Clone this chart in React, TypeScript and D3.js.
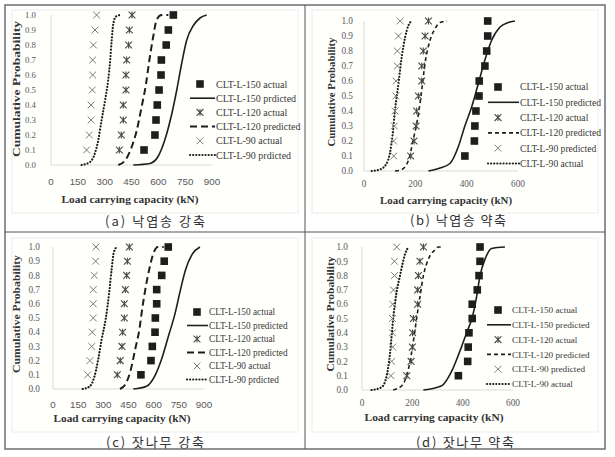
import React from 'react';
import * as d3 from 'd3';

// ---------- data ----------
const P_LEVELS = [0.1, 0.2, 0.3, 0.4, 0.5, 0.6, 0.7, 0.8, 0.9, 1.0];
const Y_TICKS = [0, 0.1, 0.2, 0.3, 0.4, 0.5, 0.6, 0.7, 0.8, 0.9, 1.0];
const X_TICKS_STRONG = [0, 150, 300, 450, 600, 750, 900];
const X_TICKS_WEAK = [0, 200, 400, 600];

// (a) 낙엽송 강축
const A150_A = [520, 581, 587, 594, 604, 615, 617, 644, 656, 684];
const A120_A = [382, 393, 404, 404, 419, 419, 423, 434, 438, 453];
const A90_A = [199, 214, 224, 224, 231, 233, 233, 237, 246, 255];
const P150_A: [number, number][] = [[460, 0], [553, 0.01], [600, 0.06], [637, 0.17], [675, 0.34], [703, 0.5], [731, 0.68], [758, 0.83], [796, 0.93], [833, 0.98], [870, 1.0]];
const P120_A: [number, number][] = [[376, 0], [414, 0.03], [451, 0.12], [479, 0.23], [507, 0.39], [531, 0.54], [550, 0.7], [572, 0.86], [591, 0.97], [619, 1.0], [656, 1.0]];
const P90_A: [number, number][] = [[171, 0], [218, 0.02], [246, 0.08], [265, 0.17], [283, 0.3], [302, 0.43], [320, 0.57], [331, 0.7], [339, 0.83], [348, 0.94], [363, 0.99], [386, 1.0]];

// (b) 낙엽송 약축
const A150_B = [393, 430, 432, 436, 448, 449, 471, 478, 482, 482];
const A120_B = [182, 195, 203, 205, 212, 225, 225, 231, 238, 251];
const A90_B = [116, 115, 118, 121, 124, 125, 130, 130, 134, 141];
const P150_B: [number, number][] = [[251, 0], [296, 0.02], [335, 0.05], [367, 0.16], [393, 0.3], [420, 0.43], [445, 0.58], [471, 0.74], [497, 0.87], [530, 0.96], [562, 0.99], [588, 1.0]];
const P120_B: [number, number][] = [[121, 0], [147, 0.01], [173, 0.07], [192, 0.21], [212, 0.38], [225, 0.54], [238, 0.72], [257, 0.87], [277, 0.95], [296, 0.99], [323, 1.0]];
const P90_B: [number, number][] = [[30, 0], [62, 0.01], [88, 0.05], [101, 0.12], [112, 0.25], [121, 0.41], [134, 0.58], [147, 0.76], [160, 0.89], [173, 0.97], [186, 1.0]];

// (c) 잣나무 강축
const A150_C = [524, 584, 592, 608, 610, 618, 618, 648, 663, 687];
const A120_C = [383, 401, 411, 415, 425, 425, 431, 439, 443, 455];
const A90_C = [207, 220, 231, 234, 240, 240, 240, 246, 254, 256];
const P150_C: [number, number][] = [[479, 0], [558, 0.02], [610, 0.1], [650, 0.22], [690, 0.38], [725, 0.52], [760, 0.7], [790, 0.84], [830, 0.95], [876, 1.0]];
const P120_C: [number, number][] = [[399, 0], [430, 0.03], [460, 0.12], [490, 0.28], [515, 0.42], [530, 0.55], [550, 0.7], [575, 0.85], [600, 0.96], [625, 1.0], [660, 1.0]];
const P90_C: [number, number][] = [[177, 0], [220, 0.02], [245, 0.08], [268, 0.2], [290, 0.35], [315, 0.5], [335, 0.68], [350, 0.85], [362, 0.96], [380, 1.0]];

// (d) 잣나무 약축
const A150_D = [383, 420, 422, 425, 438, 438, 458, 465, 469, 469];
const A120_D = [178, 195, 200, 201, 204, 221, 221, 224, 230, 244];
const A90_D = [115, 118, 122, 121, 121, 122, 125, 129, 129, 138];
const P150_D: [number, number][] = [[244, 0], [317, 0.03], [356, 0.13], [395, 0.3], [420, 0.42], [437, 0.5], [455, 0.65], [469, 0.8], [490, 0.92], [515, 0.99], [568, 1.0]];
const P120_D: [number, number][] = [[124, 0], [158, 0.03], [185, 0.15], [205, 0.35], [217, 0.5], [230, 0.65], [244, 0.8], [265, 0.92], [290, 0.98], [303, 1.0], [317, 1.0]];
const P90_D: [number, number][] = [[38, 0], [78, 0.02], [98, 0.1], [111, 0.25], [124, 0.5], [137, 0.68], [151, 0.8], [171, 0.95], [184, 1.0]];

const LEGEND_A = ['CLT-L-150 actual', 'CLT-L-150 prdicted', 'CLT-L-120 actual', 'CLT-L-120 predicted', 'CLT-L-90 actual', 'CLT-L-90 prdicted'];
const LEGEND_B = ['CLT-L-150 actual', 'CLT-L-150 predicted', 'CLT-L-120 actual', 'CLT-L-120 predicted', 'CLT-L-90 predicted', 'CLT-L-90 actual'];
const LEGEND_C = ['CLT-L-150 actual', 'CLT-L-150 predicted', 'CLT-L-120 actual', 'CLT-L-120 predicted', 'CLT-L-90 actual', 'CLT-L-90 prdicted'];
const LEGEND_D = ['CLT-L-150 actual', 'CLT-L-150 predicted', 'CLT-L-120 actual', 'CLT-L-120 predicted', 'CLT-L-90 predicted', 'CLT-L-90 actual'];

const CAPTIONS = ['(a) 낙엽송 강축', '(b) 낙엽송 약축', '(c) 잣나무 강축', '(d) 잣나무 약축'];
const Y_TITLE = 'Cumulative Probability';
const X_TITLE = 'Load carrying capacity (kN)';

// ---------- layout ----------
type Cfg = {
  xMax: number; xTicks: number[];
  xr: [number, number]; yr: [number, number];
  frame: [number, number, number, number];
  xTickY: number; xTickFont: string; xTickSize: number;
  yTickRight: number; yTickSize: number;
  xTitle: [number, number, number]; yTitle: [number, number, number];
  leg: { mx: number; lx0: number; lx1: number; tx: number; y0: number; dy: number; fs: number };
  caption: [number, number, number];
  dash: string; dashW: number;
  a150: number[]; a120: number[]; a90: number[];
  p150: [number, number][]; p120: [number, number][]; p90: [number, number][];
  legend: string[]; capIdx: number;
};

const SERIF = '"Liberation Serif", "Times New Roman", serif';
const SANS = '"Liberation Sans", Arial, sans-serif';

const PANELS: Cfg[] = [
  {
    xMax: 900, xTicks: X_TICKS_STRONG, xr: [51, 212], yr: [165, 15], frame: [12, 10, 286, 203],
    xTickY: 185, xTickFont: SANS, xTickSize: 9.8, yTickRight: 36, yTickSize: 8.8,
    xTitle: [130, 203, 137], yTitle: [16, 89, 136],
    leg: { mx: 200, lx0: 190, lx1: 215, tx: 216, y0: 84, dy: 14.2, fs: 10 },
    caption: [155, 226, 100], dash: '7 4', dashW: 2,
    a150: A150_A, a120: A120_A, a90: A90_A, p150: P150_A, p120: P120_A, p90: P90_A, legend: LEGEND_A, capIdx: 0,
  },
  {
    xMax: 600, xTicks: X_TICKS_WEAK, xr: [364, 518], yr: [171, 21], frame: [312, 10, 286, 203],
    xTickY: 187, xTickFont: SERIF, xTickSize: 9.3, yTickRight: 353, yTickSize: 9.3,
    xTitle: [446, 204, 132], yTitle: [331, 92, 109],
    leg: { mx: 498, lx0: 488, lx1: 519, tx: 520, y0: 87, dy: 15.3, fs: 9.6 },
    caption: [458, 225, 96], dash: '4 3', dashW: 1.6,
    a150: A150_B, a120: A120_B, a90: A90_B, p150: P150_B, p120: P120_B, p90: P90_B, legend: LEGEND_B, capIdx: 1,
  },
  {
    xMax: 900, xTicks: X_TICKS_STRONG, xr: [53, 204], yr: [389, 247], frame: [12, 238, 286, 194],
    xTickY: 408, xTickFont: SANS, xTickSize: 9.8, yTickRight: 40, yTickSize: 9.3,
    xTitle: [122, 422, 137], yTitle: [16, 314, 118],
    leg: { mx: 197, lx0: 187, lx1: 208, tx: 209, y0: 312, dy: 13.5, fs: 9.3 },
    caption: [155, 447, 98], dash: '7 4', dashW: 2,
    a150: A150_C, a120: A120_C, a90: A90_C, p150: P150_C, p120: P120_C, p90: P90_C, legend: LEGEND_C, capIdx: 2,
  },
  {
    xMax: 600, xTicks: X_TICKS_WEAK, xr: [362, 513], yr: [390, 247], frame: [312, 238, 286, 194],
    xTickY: 406, xTickFont: SERIF, xTickSize: 9.3, yTickRight: 348, yTickSize: 9.3,
    xTitle: [434, 421, 139], yTitle: [330, 314, 115],
    leg: { mx: 498, lx0: 487, lx1: 511, tx: 512, y0: 310, dy: 14.8, fs: 9.2 },
    caption: [465, 447, 98], dash: '4 3', dashW: 1.6,
    a150: A150_D, a120: A120_D, a90: A90_D, p150: P150_D, p120: P120_D, p90: P90_D, legend: LEGEND_D, capIdx: 3,
  },
];

const INK = '#1e1e1e';
const STAR_C = '#4a4a4a';
const CROSS_C = '#7a7a7a';
const TICK_C = '#595959';

function Square({ x, y }: { x: number; y: number }) {
  return <rect x={x - 3.8} y={y - 3.8} width={7.6} height={7.6} fill={INK} />;
}
function Star({ x, y }: { x: number; y: number }) {
  const h = 3.4;
  return (
    <path d={`M${x - h},${y - h}L${x + h},${y + h}M${x - h},${y + h}L${x + h},${y - h}M${x},${y - h}L${x},${y + h}`}
      stroke={STAR_C} strokeWidth={1.1} fill="none" />
  );
}
function Cross({ x, y }: { x: number; y: number }) {
  const h = 3.4;
  return (
    <path d={`M${x - h},${y - h}L${x + h},${y + h}M${x - h},${y + h}L${x + h},${y - h}`}
      stroke={CROSS_C} strokeWidth={1} fill="none" />
  );
}

function Panel({ c }: { c: Cfg }) {
  const x = d3.scaleLinear().domain([0, c.xMax]).range(c.xr);
  const y = d3.scaleLinear().domain([0, 1]).range(c.yr);
  const line = d3.line<[number, number]>().x(d => x(d[0])).y(d => y(d[1])).curve(d3.curveMonotoneX);
  const solid = { stroke: INK, strokeWidth: 1.6, fill: 'none' };
  const dashed = { stroke: INK, strokeWidth: c.dashW, strokeDasharray: c.dash, fill: 'none' };
  const dotted = { stroke: INK, strokeWidth: 2.2, strokeDasharray: '0.1 3', strokeLinecap: 'round' as const, fill: 'none' };
  const L = c.leg;
  const ly = (i: number) => L.y0 + i * L.dy;
  const cap = CAPTIONS[c.capIdx];
  return (
    <g>
      <rect x={c.frame[0]} y={c.frame[1]} width={c.frame[2]} height={c.frame[3]} fill="#fffffc" stroke="#ececec" strokeWidth={1} />
      <line x1={x(0)} x2={x(0)} y1={y(1)} y2={y(0)} stroke="#d9d9d9" strokeWidth={1} />
      <line x1={x(0)} x2={x(c.xMax)} y1={y(0)} y2={y(0)} stroke="#d9d9d9" strokeWidth={1} />
      {Y_TICKS.map(t => (
        <text key={'y' + t} x={c.yTickRight} y={y(t)} dy="0.35em" textAnchor="end"
          fontFamily={SERIF} fontSize={c.yTickSize} fill={TICK_C}>{t.toFixed(1)}</text>
      ))}
      {c.xTicks.map(t => (
        <text key={'x' + t} x={x(t)} y={c.xTickY} textAnchor="middle"
          fontFamily={c.xTickFont} fontSize={c.xTickSize} fill={TICK_C}>{t}</text>
      ))}
      <text x={c.xTitle[0]} y={c.xTitle[1]} textAnchor="middle" fontFamily={SERIF} fontWeight="bold" fontSize={11}
        fill="#333" textLength={c.xTitle[2]} lengthAdjust="spacingAndGlyphs">{X_TITLE}</text>
      <text transform={`translate(${c.yTitle[0]},${c.yTitle[1]}) rotate(-90)`} textAnchor="middle" dy="0.35em"
        fontFamily={SERIF} fontWeight="bold" fontSize={11} fill="#333"
        textLength={c.yTitle[2]} lengthAdjust="spacingAndGlyphs">{Y_TITLE}</text>
      <path d={line(c.p90) || ''} {...dotted} />
      <path d={line(c.p120) || ''} {...dashed} />
      <path d={line(c.p150) || ''} {...solid} />
      {c.a90.map((v, i) => <Cross key={'c' + i} x={x(v)} y={y(P_LEVELS[i])} />)}
      {c.a120.map((v, i) => <Star key={'s' + i} x={x(v)} y={y(P_LEVELS[i])} />)}
      {c.a150.map((v, i) => <Square key={'q' + i} x={x(v)} y={y(P_LEVELS[i])} />)}
      <Square x={L.mx} y={ly(0)} />
      <line x1={L.lx0} x2={L.lx1} y1={ly(1)} y2={ly(1)} {...solid} />
      <Star x={L.mx} y={ly(2)} />
      <line x1={L.lx0} x2={L.lx1} y1={ly(3)} y2={ly(3)} {...dashed} />
      <Cross x={L.mx} y={ly(4)} />
      <line x1={L.lx0} x2={L.lx1} y1={ly(5)} y2={ly(5)} {...dotted} />
      {c.legend.map((t, i) => (
        <text key={'l' + i} x={L.tx} y={ly(i)} dy="0.35em" fontFamily={SERIF} fontSize={L.fs} fill="#3a3a3a">{t}</text>
      ))}
      <text x={c.caption[0]} y={c.caption[1]} textAnchor="middle" fontFamily={'"Noto Sans CJK KR", sans-serif'}
        fontSize={13} fill="#333" textLength={c.caption[2]} lengthAdjust="spacing">{cap}</text>
    </g>
  );
}

export default function App() {
  return (
    <svg width={615} height={457} style={{ position: 'absolute', left: 0, top: 0, background: '#fff' }}>
      <rect x={0} y={0} width={615} height={457} fill="#fff" />
      {PANELS.map((c, i) => <Panel key={i} c={c} />)}
      <rect x={5} y={5} width={600} height={444} fill="none" stroke="#6e6e6e" strokeWidth={1.5} />
      <line x1={305} x2={305} y1={5} y2={449} stroke="#555" strokeWidth={1} />
      <line x1={5} x2={605} y1={232} y2={232} stroke="#555" strokeWidth={1} />
    </svg>
  );
}
